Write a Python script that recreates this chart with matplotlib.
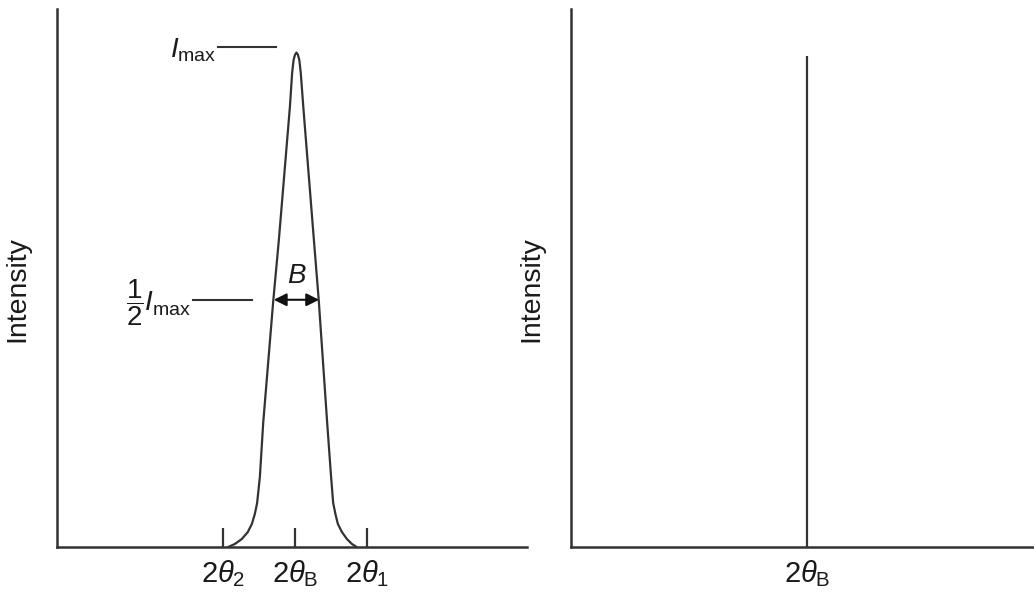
import matplotlib
matplotlib.use("Agg")
import matplotlib.pyplot as plt

plt.rcParams["font.family"] = ["Liberation Sans", "DejaVu Sans"]
plt.rcParams["mathtext.fontset"] = "custom"
plt.rcParams["mathtext.rm"] = "Liberation Sans"
plt.rcParams["mathtext.it"] = "Liberation Sans:italic"
plt.rcParams["mathtext.bf"] = "Liberation Sans:bold"

# Broadened diffraction peak (2theta relative to 2theta_B, intensity normalised to axis height)
peak_two_theta = [-0.933, -0.840, -0.743, -0.660, -0.604, -0.563, -0.531, -0.493,
                  -0.447, -0.308, -0.229, -0.076, -0.045, -0.025, -0.005, 0.015,
                  0.035, 0.055, 0.075, 0.110, 0.257, 0.326, 0.442, 0.496, 0.525,
                  0.556, 0.590, 0.646, 0.715, 0.785, 0.850]
peak_intensity = [0.0, 0.0056, 0.0149, 0.0279, 0.0428, 0.0613, 0.0818, 0.130,
                  0.230, 0.456, 0.571, 0.818, 0.881, 0.905, 0.915, 0.919,
                  0.915, 0.905, 0.881, 0.818, 0.571, 0.456, 0.230, 0.130, 0.0818,
                  0.0613, 0.0428, 0.0279, 0.0149, 0.0056, 0.0]
i_max = 0.919

# Tick positions / labels for the broadened peak
tick_pos = [-1.0, 0.0, 1.0]
tick_labels = [r"2$\mathit{\theta}_2$", r"2$\mathit{\theta}_{\rm B}$", r"2$\mathit{\theta}_1$"]

# Ideal (perfect crystal) line
line_pos = [0.0]
line_intensity = [0.913]
line_tick_labels = [r"2$\mathit{\theta}_{\rm B}$"]

ink = "#333333"
text_c = "#1a1a1a"

fig = plt.figure(figsize=(10.34, 5.98), dpi=100)
ax1 = fig.add_axes([0.0551, 0.0853, 0.4545, 0.8997])
ax2 = fig.add_axes([0.5522, 0.0853, 0.4478, 0.8997])

for ax in (ax1, ax2):
    for s in ("top", "right"):
        ax.spines[s].set_visible(False)
    for s in ("left", "bottom"):
        ax.spines[s].set_color(ink)
        ax.spines[s].set_linewidth(1.8)
    ax.set_ylim(0, 1)
    ax.set_yticks([])
    ax.set_ylabel("Intensity", fontsize=20.5, color=text_c)
    ax.yaxis.set_label_coords(-0.057, 0.48)

# Left panel: broadened peak
ax1.set_xlim(-3.31, 3.215)
ax1.plot(peak_two_theta, peak_intensity, color=ink, lw=1.6,
         solid_joinstyle="round", solid_capstyle="round")
ax1.set_xticks(tick_pos)
ax1.set_xticklabels(tick_labels, fontsize=21, color=text_c)
ax1.tick_params(axis="x", direction="in", length=13.5, width=1.6, color=ink, pad=8)

# I_max marker
ax1.plot([-1.076, -0.27], [i_max + 0.01, i_max + 0.01], color=ink, lw=1.5)
ax1.text(-1.10, i_max + 0.005, r"$\mathit{I}_{\rm max}$", fontsize=20, color=text_c,
         ha="right", va="center")

# Half maximum marker
half = i_max / 2
ax1.plot([-1.42, -0.60], [half, half], color=ink, lw=1.5)
ax1.text(-1.45, half - 0.005, r"$\dfrac{1}{2}\mathit{I}_{\rm max}$", fontsize=20,
         color=text_c, ha="right", va="center")

# FWHM arrow B
ax1.annotate("", xy=(-0.30, half), xytext=(0.33, half),
             arrowprops=dict(arrowstyle="<|-|>", color="#111111", lw=1.5,
                             mutation_scale=19, shrinkA=0, shrinkB=0))
ax1.text(0.02, half + 0.02, r"$\mathit{B}$", fontsize=20, color=text_c,
         ha="center", va="bottom")

# Right panel: ideal sharp line
ax2.set_xlim(-3.28, 3.15)
ax2.vlines(line_pos, 0, line_intensity, color=ink, lw=1.6)
ax2.set_xticks(line_pos)
ax2.set_xticklabels(line_tick_labels, fontsize=21, color=text_c)
ax2.tick_params(axis="x", length=0, pad=8)

fig.savefig("out.png", dpi=100)
